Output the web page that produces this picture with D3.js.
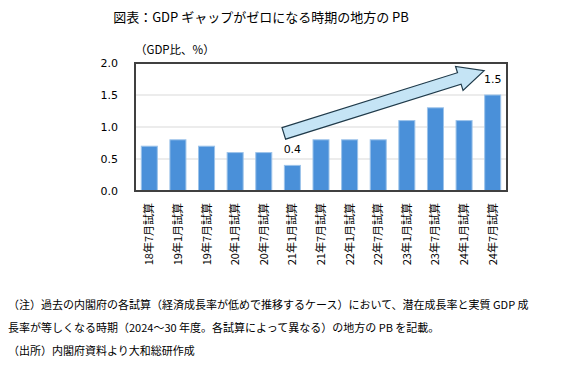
<!DOCTYPE html>
<html>
<head>
<meta charset="utf-8">
<script src="https://cdn.jsdelivr.net/npm/d3@7"></script>
<style>
  body { margin: 0; background: #fff; }
  text { font-family: "Noto Sans CJK JP", sans-serif; fill: #000; }
  .num { font-family: "DejaVu Sans", sans-serif; }
</style>
</head>
<body>
<div id="chart"></div>
<script>
// data
const categories = ["18年7月試算", "19年1月試算", "19年7月試算", "20年1月試算", "20年7月試算",
  "21年1月試算", "21年7月試算", "22年1月試算", "22年7月試算", "23年1月試算",
  "23年7月試算", "24年1月試算", "24年7月試算"];
const pbValues = [0.7, 0.8, 0.7, 0.6, 0.6, 0.4, 0.8, 0.8, 0.8, 1.1, 1.3, 1.1, 1.5];
const yTicks = [0, 0.5, 1.0, 1.5, 2.0];
const labelled = [5, 12]; // bars with a value label (0.4 and 1.5)
const arrowFrom = { i: 5.2, v: 0.9 };   // arrow tail (band index, value)
const arrowTo = { i: 12.2, v: 1.88 };   // arrow tip
const title = "図表：GDP ギャップがゼロになる時期の地方の PB";
const unitLabel = "（GDP比、%）";
const notes = [
  "（注）過去の内閣府の各試算（経済成長率が低めで推移するケース）において、潜在成長率と実質 GDP 成",
  "長率が等しくなる時期（2024～30 年度。各試算によって異なる）の地方の PB を記載。",
  "（出所）内閣府資料より大和総研作成"
];

const W = 585, H = 377;
const plot = { left: 135, right: 507, top: 63, bottom: 191 };

const svg = d3.select("#chart").append("svg")
  .attr("width", W).attr("height", H);

// title
svg.append("text")
  .attr("x", 261).attr("y", 22)
  .attr("text-anchor", "middle")
  .style("font-size", "13px")
  .text(title);

svg.append("text")
  .attr("x", 135).attr("y", 54)
  .style("font-size", "11.5px")
  .text(unitLabel);

// scales
const x = d3.scaleBand()
  .domain(categories)
  .range([plot.left, plot.right])
  .paddingInner(0.44).paddingOuter(0.22);

const y = d3.scaleLinear()
  .domain([0, 2])
  .range([plot.bottom, plot.top]);

// gridlines
svg.append("g")
  .selectAll("line")
  .data(yTicks.filter(d => d > 0 && d < 2))
  .enter().append("line")
  .attr("x1", plot.left).attr("x2", plot.right)
  .attr("y1", d => y(d)).attr("y2", d => y(d))
  .attr("stroke", "#d9d9d9").attr("stroke-width", 1);

// y axis labels
svg.append("g")
  .selectAll("text")
  .data(yTicks)
  .enter().append("text")
  .attr("class", "num")
  .attr("x", 118).attr("y", d => y(d) + 4)
  .attr("text-anchor", "end")
  .style("font-size", "11px")
  .text(d => d3.format(".1f")(d));

// bars
svg.append("g")
  .selectAll("rect")
  .data(pbValues)
  .enter().append("rect")
  .attr("x", (d, i) => x(categories[i]))
  .attr("y", d => y(d))
  .attr("width", x.bandwidth())
  .attr("height", d => y(0) - y(d))
  .attr("fill", "#4a90d9")
  .attr("stroke", "#9cc3ea").attr("stroke-width", 1);

// frame
svg.append("rect")
  .attr("x", plot.left).attr("y", plot.top)
  .attr("width", plot.right - plot.left)
  .attr("height", plot.bottom - plot.top)
  .attr("fill", "none")
  .attr("stroke", "#404040").attr("stroke-width", 2);

// x labels, rotated
svg.append("g")
  .selectAll("text")
  .data(categories)
  .enter().append("text")
  .attr("transform", d => `translate(${x(d) + x.bandwidth() / 2 + 4},${plot.bottom + 12}) rotate(-90)`)
  .attr("text-anchor", "end")
  .style("font-size", "11px")
  .text(d => d);

// arrow
const step = x.step();
const x0 = x(categories[0]) - x.paddingOuter() * step;
const ax = i => x0 + i * step;
const p1 = [ax(arrowFrom.i), y(arrowFrom.v)];
const p2 = [ax(arrowTo.i), y(arrowTo.v)];
const len = Math.hypot(p2[0] - p1[0], p2[1] - p1[1]);
const ang = Math.atan2(p2[1] - p1[1], p2[0] - p1[0]) * 180 / Math.PI;
const sw = 6, hw = 12.5, hl = 26;
const shape = [[0, -sw], [len - hl, -sw], [len - hl, -hw], [len, 0], [len - hl, hw], [len - hl, sw], [0, sw]];
svg.append("path")
  .attr("transform", `translate(${p1[0]},${p1[1]}) rotate(${ang})`)
  .attr("d", d3.line()(shape) + "Z")
  .attr("fill", "#c5e4f5")
  .attr("stroke", "#1f3a4a").attr("stroke-width", 1.2);

// value labels
svg.append("g")
  .selectAll("text")
  .data(labelled)
  .enter().append("text")
  .attr("class", "num")
  .attr("x", i => x(categories[i]) + x.bandwidth() / 2)
  .attr("y", i => y(pbValues[i]) - 12)
  .attr("text-anchor", "middle")
  .style("font-size", "11px")
  .text(i => d3.format(".1f")(pbValues[i]));

// notes
svg.append("g")
  .selectAll("text")
  .data(notes)
  .enter().append("text")
  .attr("x", 8)
  .attr("y", (d, i) => 309 + i * 23)
  .style("font-size", "11px")
  .text(d => d);
</script>
</body>
</html>
